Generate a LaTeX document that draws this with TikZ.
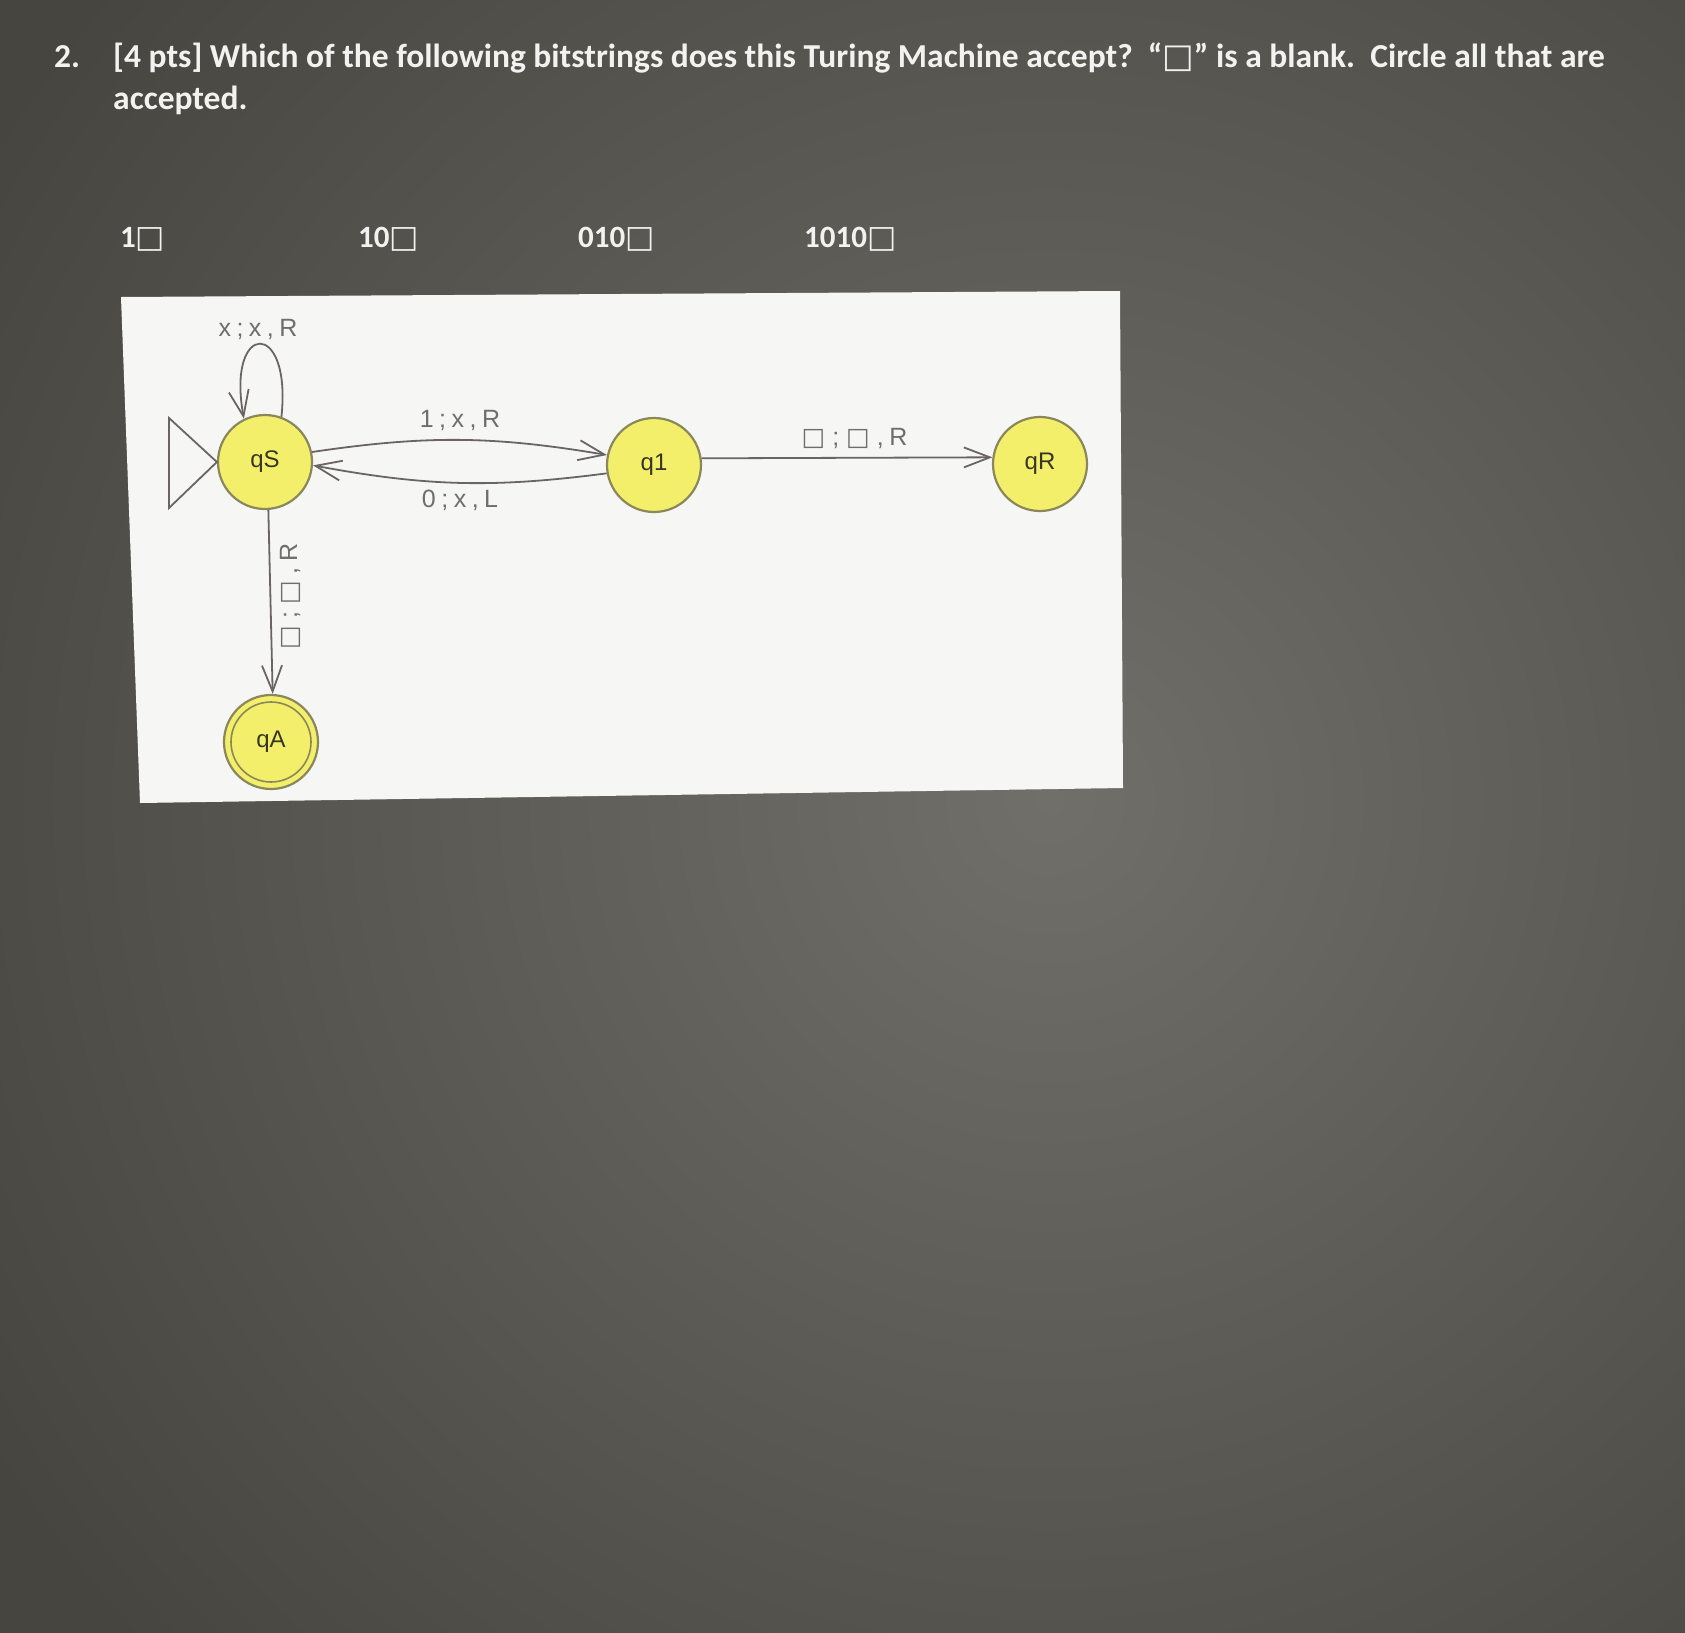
\documentclass[tikz,border=0pt]{standalone}
\usepackage{fontspec}
\setmainfont{Carlito}
\newfontfamily\dejavu{DejaVu Sans}
\newfontfamily\lblfont[LetterSpace=22]{Liberation Sans}
\newfontfamily\nodefont{Liberation Sans}
\usetikzlibrary{arrows.meta}
\definecolor{bgdark}{HTML}{46453F}
\definecolor{bglight}{HTML}{706F69}
\definecolor{panel}{HTML}{F6F7F4}
\definecolor{statefill}{HTML}{F3EF6A}
\definecolor{stateline}{HTML}{8A875C}
\definecolor{edgecol}{HTML}{6A6464}
\definecolor{lblcol}{HTML}{6E6E6E}
\definecolor{titlecol}{HTML}{F2F2F0}
\newcommand{\blk}{{\dejavu\char"25A1}}
\newcommand{\lblk}{\kern7pt{\dejavu\char"25A1}\kern7pt}
\tikzset{
  titletext/.style={anchor=base west, inner sep=0pt, text=titlecol, font=\fontsize{33.5}{40}\selectfont\bfseries},
  opttext/.style={anchor=base west, inner sep=0pt, text=titlecol, font=\fontsize{31}{37}\selectfont\bfseries},
  state/.style={circle, draw=stateline, line width=2.2pt, fill=statefill, minimum size=94pt, inner sep=0pt, font=\nodefont\fontsize{24}{28}\selectfont, text=black!60!stateline},
  edgelbl/.style={inner sep=0pt, text=lblcol, font=\lblfont\fontsize{25}{30}\selectfont},
  trans/.style={draw=edgecol, line width=1.8pt, -{Straight Barb[length=26pt,width=20pt,line width=1.8pt]}}
}
\begin{document}
\begin{tikzpicture}[x=1pt,y=1pt]
\useasboundingbox (0,0) rectangle (1685,-1632);
% background
\begin{scope}
\clip (-10,10) rectangle (1695,-1642);
\fill[bgdark] (-10,10) rectangle (1695,-1642);
\shade[inner color=bglight, outer color=bgdark] (1050,-800) circle (1250);
\end{scope}
% title
\node[titletext] (num) at (54,-68) {2.};
\node[titletext] (question) at (113,-68) {[4 pts] Which of the following bitstrings does this Turing Machine accept?\ \ “\blk” is a blank.\ \ Circle all that are};
\node[titletext] (question2) at (113,-110) {accepted.};
% options
\node[opttext] (opta) at (120,-247) {1\blk};
\node[opttext] (optb) at (358,-247) {10\blk};
\node[opttext] (optc) at (578,-247) {010\blk};
\node[opttext] (optd) at (804,-247) {1010\blk};
% panel
\fill[panel] (121,-297) -- (1120,-291) -- (1123,-788) -- (140,-803) -- cycle;
% states
\node[state] (qS) at (265,-462) {qS};
\node[state] (q1) at (654,-465) {q1};
\node[state] (qR) at (1040,-464) {qR};
\node[state] (qA) at (271,-742) {qA};
\node[circle, draw=stateline, line width=1.6pt, minimum size=80pt, inner sep=0pt] (qAin) at (qA) {};
% start triangle
\coordinate (st1) at (169,-418);
\coordinate (st2) at (169,-508);
\draw[edgecol, line width=1.8pt, line join=miter] (st1) -- (qS.west) -- (st2) -- cycle;
% transitions
\draw[trans] (qS.70) .. controls (292,-318) and (226,-321) .. (qS.116);
\node[edgelbl] (lloop) at (258,-329) {x;x,R};
\draw[trans] (qS.12) to[bend left=9] (q1.168);
\node[edgelbl] (l1) at (460,-420) {1;x,R};
\draw[trans] (q1.190) to[bend left=9] (qS.-4);
\node[edgelbl] (l0) at (460,-500) {0;x,L};
\draw[trans] (q1.8) -- (qR.172);
\node[edgelbl] (lr) at (851,-438) {\lblk;\lblk,R};
\draw[trans] (qS.-86) -- (qA.88);
\node[edgelbl, rotate=90] (la) at (290,-600) {\lblk;\lblk,R};
\end{tikzpicture}
\end{document}
